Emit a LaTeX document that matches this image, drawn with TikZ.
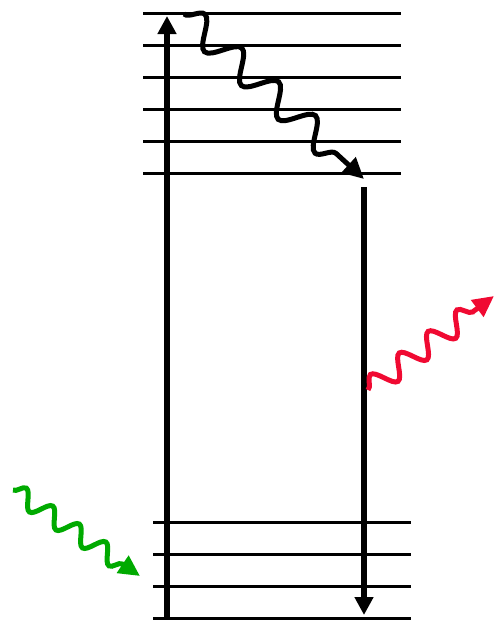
\documentclass[tikz,border=0pt]{standalone}
\usetikzlibrary{arrows.meta,decorations.pathmorphing}
\definecolor{absgreen}{RGB}{0,170,0}
\definecolor{emred}{RGB}{240,10,50}
\begin{document}
\begin{tikzpicture}[
    x=1pt, y=-1pt,
    level/.style={draw=black, line width=3pt},
    trans/.style={draw=black, line width=5.5pt, -{Triangle[length=18pt,width=18pt]}},
    wave/.style={line width=5pt, -{Triangle[length=21pt,width=20pt]}, decorate}
  ]
  \useasboundingbox (0,0) rectangle (494,622);
  % upper levels
  \foreach \i in {0,...,5} {
    \coordinate (u\i l) at (143,13+32*\i);
    \coordinate (u\i r) at (401,13+32*\i);
    \draw[level] (u\i l) -- (u\i r);
  }
  % lower levels
  \foreach \i in {0,...,3} {
    \coordinate (g\i l) at (153,522+32*\i);
    \coordinate (g\i r) at (411,522+32*\i);
    \draw[level] (g\i l) -- (g\i r);
  }
  % absorption and emission
  \coordinate (absfrom) at (167,618);
  \coordinate (absto) at (167,16);
  \coordinate (emfrom) at (364,187);
  \coordinate (emto) at (364,615);
  \draw[trans] (absfrom) -- (absto);
  \draw[trans] (emfrom) -- (emto);
  % relaxation
  \coordinate (relfrom) at (184,14);
  \coordinate (relto) at (364,179);
  \draw[wave, black, decoration={snake, amplitude=14pt, segment length=50pt, post length=20pt}]
    (relfrom) -- (relto);
  % photons
  \coordinate (inph) at (13,490);
  \coordinate (inend) at (140,576);
  \draw[wave, absgreen, decoration={snake, amplitude=9pt, segment length=32pt, post length=20pt}]
    (inph) -- (inend);
  \coordinate (outph) at (368,390);
  \coordinate (outend) at (494,296);
  \draw[wave, emred, decoration={snake, amplitude=11pt, segment length=36pt, post length=20pt}]
    (outph) -- (outend);
\end{tikzpicture}
\end{document}
